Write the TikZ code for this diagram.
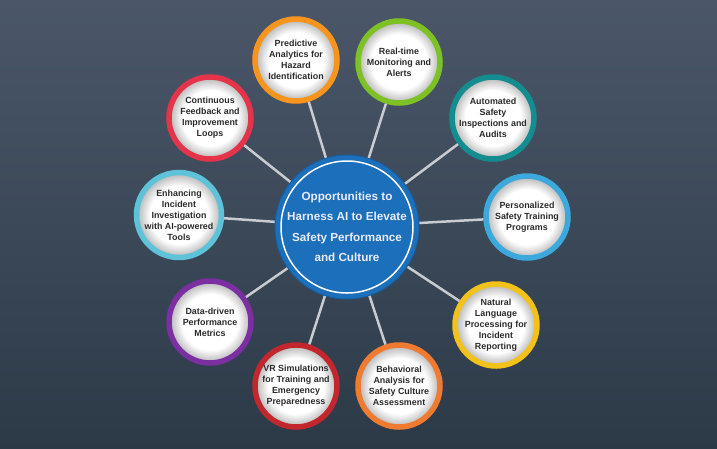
\documentclass[tikz,border=0pt]{standalone}
\usepackage{fontspec}
\setmainfont{Liberation Sans}
\definecolor{bgtop}{HTML}{4B5769}
\definecolor{bgbot}{HTML}{2C3A48}
\definecolor{hubblue}{HTML}{1C6FBA}
\definecolor{conn}{HTML}{C8CBCF}
\definecolor{txt}{HTML}{2B2B2B}
\definecolor{cOrange}{HTML}{F7941D}
\definecolor{cGreen}{HTML}{7DC125}
\definecolor{cTeal}{HTML}{138D90}
\definecolor{cSky}{HTML}{3BA9DC}
\definecolor{cYellow}{HTML}{F2C21B}
\definecolor{cOrange2}{HTML}{EE7B30}
\definecolor{cDarkRed}{HTML}{C1272D}
\definecolor{cPurple}{HTML}{7B2FA0}
\definecolor{cCyan}{HTML}{5EC3D8}
\definecolor{cRed}{HTML}{E5344A}
\pgfdeclareradialshading{discshade}{\pgfpoint{0bp}{0bp}}{color(0bp)=(white); color(17bp)=(white); color(25bp)=(black!30); color(50bp)=(black!30)}
\tikzset{
  hub/.style={circle, fill=hubblue, draw=hubblue!85!black, line width=1pt,
    minimum size=144pt, inner sep=0pt, align=center, text=white!92!blue,
    font=\fontsize{11.7}{20.5}\selectfont\bfseries},
  petal/.style={circle, draw=#1, line width=5.5pt, shading=discshade,
    minimum size=82pt, inner sep=0pt, align=center, text=txt,
    font=\fontsize{8.9}{11}\selectfont\bfseries},
  link/.style={draw=conn, line width=2.5pt}
}
\begin{document}
\begin{tikzpicture}[x=1pt,y=-1pt]
\useasboundingbox (0,0) rectangle (717,448);
\shade[top color=bgtop, bottom color=bgbot] (0,0) rectangle (717,448);
\node[hub] (c) at (347,227) {Opportunities to\\Harness AI to Elevate\\Safety Performance\\and Culture};
\draw[white, line width=1.5pt] (c.center) circle (66pt);
\node[petal=cOrange] (o1) at (296,60) {Predictive\\Analytics for\\Hazard\\Identification};
\node[petal=cGreen] (o2) at (399,62) {Real-time\\Monitoring and\\Alerts};
\node[petal=cTeal] (o3) at (493,118) {Automated\\Safety\\Inspections and\\Audits};
\node[petal=cSky] (o4) at (527,217) {Personalized\\Safety Training\\Programs};
\node[petal=cYellow] (o5) at (496,325) {Natural\\Language\\Processing for\\Incident\\Reporting};
\node[petal=cOrange2] (o6) at (399,386) {Behavioral\\Analysis for\\Safety Culture\\Assessment};
\node[petal=cDarkRed] (o7) at (296,386) {VR Simulations\\for Training and\\Emergency\\Preparedness};
\node[petal=cPurple] (o8) at (210,322) {Data-driven\\Performance\\Metrics};
\node[petal=cCyan] (o9) at (179,215) {Enhancing\\Incident\\Investigation\\with AI-powered\\Tools};
\node[petal=cRed] (o10) at (210,118) {Continuous\\Feedback and\\Improvement\\Loops};
\foreach \n in {o1,o2,o3,o4,o5,o6,o7,o8,o9,o10}{
  \draw[link] (c) -- (\n);
}
\end{tikzpicture}
\end{document}
